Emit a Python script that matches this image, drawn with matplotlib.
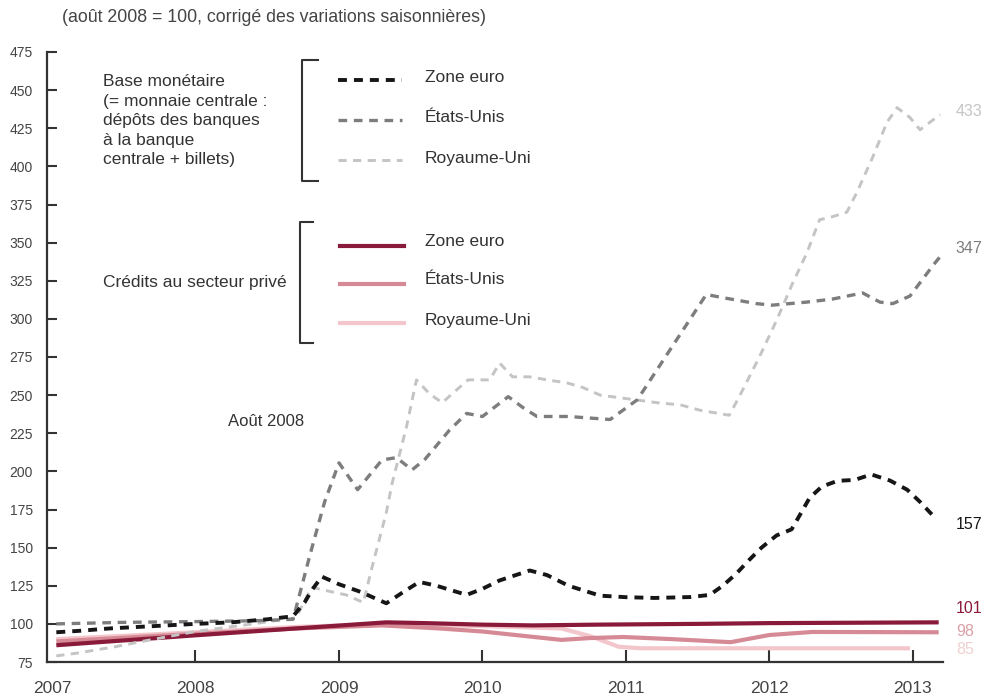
import matplotlib
matplotlib.use("Agg")
import matplotlib.pyplot as plt

plt.rcParams['font.family'] = ['Liberation Sans', 'DejaVu Sans']

# base monetaire (aout 2008 = 100)
eur_base_x = [2007.03, 2007.2, 2007.4, 2007.7, 2008.0, 2008.25, 2008.5, 2008.68, 2008.76, 2008.81,
              2008.88, 2009.0, 2009.15, 2009.33, 2009.45, 2009.56, 2009.68, 2009.89, 2010.0, 2010.12,
              2010.2, 2010.33, 2010.45, 2010.6, 2010.82, 2011.0, 2011.2, 2011.45, 2011.585, 2011.675,
              2011.77, 2011.86, 2011.945, 2012.05, 2012.155, 2012.21, 2012.28, 2012.365, 2012.475,
              2012.595, 2012.71, 2012.84, 2012.96, 2013.05, 2013.14]
eur_base_y = [94.5, 95.5, 97, 98.5, 100, 101, 103, 105, 114, 122,
              131, 126, 121, 113.5, 121, 127.5, 125, 119, 123, 128.5,
              131, 135, 132, 125, 118.5, 117.5, 117, 117.6, 119, 125,
              133, 142, 150, 158, 162, 171, 182.6, 190, 193.8,
              194.4, 198, 194, 188, 180, 171]

us_base_x = [2007.03, 2007.5, 2008.0, 2008.4, 2008.68, 2008.8, 2008.9, 2009.0, 2009.13, 2009.3,
             2009.4, 2009.51, 2009.6, 2009.77, 2009.89, 2010.0, 2010.18, 2010.28, 2010.38, 2010.6,
             2010.89, 2011.08, 2011.56, 2011.67, 2011.91, 2012.02, 2012.26, 2012.44, 2012.65, 2012.77,
             2012.86, 2012.98, 2013.06, 2013.14, 2013.2]
us_base_y = [100, 101, 101.5, 102, 103, 146, 180, 205.6, 188, 207.5,
             209, 201, 208, 227, 238, 236, 249, 242, 236, 236,
             234, 247, 316, 314, 310, 309, 311, 313, 317, 311,
             310, 315, 325, 335, 342]

uk_base_x = [2007.03, 2007.19, 2007.31, 2007.44, 2007.6, 2008.0, 2008.4, 2008.7, 2008.81, 2008.95,
             2009.05, 2009.17, 2009.23, 2009.33, 2009.37, 2009.47, 2009.54, 2009.63, 2009.72, 2009.79,
             2009.9, 2010.05, 2010.12, 2010.21, 2010.33, 2010.45, 2010.59, 2010.7, 2010.82, 2010.98,
             2011.22, 2011.38, 2011.52, 2011.72, 2011.79, 2011.93, 2012.05, 2012.16, 2012.26, 2012.35,
             2012.44, 2012.54, 2012.61, 2012.72, 2012.82, 2012.89, 2012.98, 2013.05, 2013.12, 2013.19]
uk_base_y = [79, 81, 83, 85, 88, 95, 100, 104, 124, 121,
             119, 114, 137, 173, 192, 229, 260, 251, 245, 251,
             260, 260, 271, 262, 262, 260, 258, 255, 250, 248,
             245, 243.6, 240, 236.8, 249, 275, 299, 323, 343, 365,
             367, 370, 383, 406, 429, 438.5, 432, 424, 429, 434]

# credits au secteur prive
eur_cred_x = [2007.03, 2008.0, 2008.7, 2009.33, 2009.6, 2010.0, 2010.35, 2010.8, 2011.5, 2012.0, 2013.18]
eur_cred_y = [86, 92.5, 97, 101, 100.5, 99.5, 99, 99.5, 100, 100.5, 101]

us_cred_x = [2007.03, 2008.0, 2008.7, 2009.3, 2009.7, 2010.0, 2010.3, 2010.55, 2010.75, 2010.98,
             2011.32, 2011.73, 2012.0, 2012.3, 2013.18]
us_cred_y = [88.5, 93.5, 97, 99, 97, 95, 92, 89.5, 90.7, 91.4,
             90, 88, 92.7, 94.7, 94.5]

uk_cred_x = [2007.03, 2008.0, 2008.7, 2009.33, 2009.8, 2010.2, 2010.55, 2010.75, 2010.95, 2011.1, 2012.98]
uk_cred_y = [90, 94.5, 98, 100, 99, 98, 97, 92, 85, 84, 84]

end_labels = ["433", "347", "157", "101", "98", "85"]
end_label_y_plot = [436, 346, 165, 110, 95, 83]

years = [2007, 2008, 2009, 2010, 2011, 2012, 2013]
yticks = list(range(75, 476, 25))

c_eur_base = '#161616'
c_us_base = '#7d7d7d'
c_uk_base = '#c4c4c4'
c_eur_cred = '#8a1a3a'
c_us_cred = '#d68a96'
c_uk_cred = '#f3c6cb'

fig = plt.figure(figsize=(9.83, 6.98), dpi=100)
ax = fig.add_axes([47 / 983, 36 / 698, 896 / 983, 610 / 698])

ax.plot(uk_cred_x, uk_cred_y, color=c_uk_cred, lw=3, solid_capstyle='butt')
ax.plot(us_cred_x, us_cred_y, color=c_us_cred, lw=3, solid_capstyle='butt')
ax.plot(eur_cred_x, eur_cred_y, color=c_eur_cred, lw=3, solid_capstyle='butt')
ax.plot(uk_base_x, uk_base_y, color=c_uk_base, lw=2.1, dashes=(2.8, 2.2))
ax.plot(us_base_x, us_base_y, color=c_us_base, lw=2.4, dashes=(2.6, 2.0))
ax.plot(eur_base_x, eur_base_y, color=c_eur_base, lw=2.8, dashes=(2.3, 1.8))

ax.set_xlim(2006.965, 2013.21)
ax.set_ylim(75, 475)
ax.set_xticks(years)
ax.set_xticklabels([str(y) for y in years])
ax.set_yticks(yticks)
ax.tick_params(axis='both', direction='in', colors='#333333', labelcolor='#444444', width=1.5)
ax.tick_params(axis='y', length=7, pad=10, labelsize=10)
ax.tick_params(axis='x', length=9, pad=14, labelsize=12.5)
ax.xaxis.get_major_ticks()[0].tick1line.set_visible(False)
for s in ['top', 'right']:
    ax.spines[s].set_visible(False)
for s in ['left', 'bottom']:
    ax.spines[s].set_color('#333333')
    ax.spines[s].set_linewidth(1.6)

# end-of-series labels
end_colors = [c_uk_base, c_us_base, c_eur_base, c_eur_cred, '#d9a0a8', '#f0d0d0']
for txt, yv, col in zip(end_labels, end_label_y_plot, end_colors):
    ax.text(2013.3, yv, txt, color=col, fontsize=11.5, va='center', ha='left', clip_on=False)

# legend, drawn by hand in axes fraction coordinates
def fx(px):
    return (px - 47) / 896

def fy(py):
    return (662 - py) / 610

tr = ax.transAxes
kw = dict(transform=tr, clip_on=False)
ax.plot([fx(318), fx(302), fx(302), fx(318)], [fy(60), fy(60), fy(181), fy(181)], color='#333333', lw=1.5, **kw)
ax.plot([fx(313), fx(300), fx(300), fx(313)], [fy(222), fy(222), fy(343), fy(343)], color='#333333', lw=1.5, **kw)

ax.plot([fx(338), fx(402)], [fy(80), fy(80)], color=c_eur_base, lw=2.8, dashes=(2.3, 1.8), **kw)
ax.plot([fx(338), fx(402)], [fy(120), fy(120)], color=c_us_base, lw=2.4, dashes=(2.6, 2.0), **kw)
ax.plot([fx(338), fx(402)], [fy(160), fy(160)], color=c_uk_base, lw=2.1, dashes=(2.8, 2.2), **kw)
ax.plot([fx(340), fx(404)], [fy(246), fy(246)], color=c_eur_cred, lw=3, **kw)
ax.plot([fx(340), fx(404)], [fy(284), fy(284)], color=c_us_cred, lw=3, **kw)
ax.plot([fx(340), fx(404)], [fy(323), fy(323)], color=c_uk_cred, lw=3, **kw)

leg_labels = ["Zone euro", "États-Unis", "Royaume-Uni"]
for lab, py in zip(leg_labels, [78, 117, 158]):
    ax.text(fx(425), fy(py), lab, transform=tr, fontsize=12.5, color='#333333', va='center')
for lab, py in zip(leg_labels, [242, 280, 321]):
    ax.text(fx(425), fy(py), lab, transform=tr, fontsize=12.5, color='#333333', va='center')

ax.text(fx(103), fy(74), "Base monétaire\n(= monnaie centrale :\ndépôts des banques\nà la banque\ncentrale + billets)",
        transform=tr, fontsize=12.5, color='#333333', va='top', ha='left', linespacing=1.38)
ax.text(fx(103), fy(282), "Crédits au secteur privé", transform=tr, fontsize=12.5,
        color='#333333', va='center', ha='left')
ax.text(fx(228), fy(422), "Août 2008", transform=tr, fontsize=12, color='#333333', va='center', ha='left')

fig.text(62 / 983, 1 - 18 / 698, "(août 2008 = 100, corrigé des variations saisonnières)",
         fontsize=12.8, color='#444444', va='center', ha='left')

fig.savefig("out.png", dpi=100, facecolor='white')
